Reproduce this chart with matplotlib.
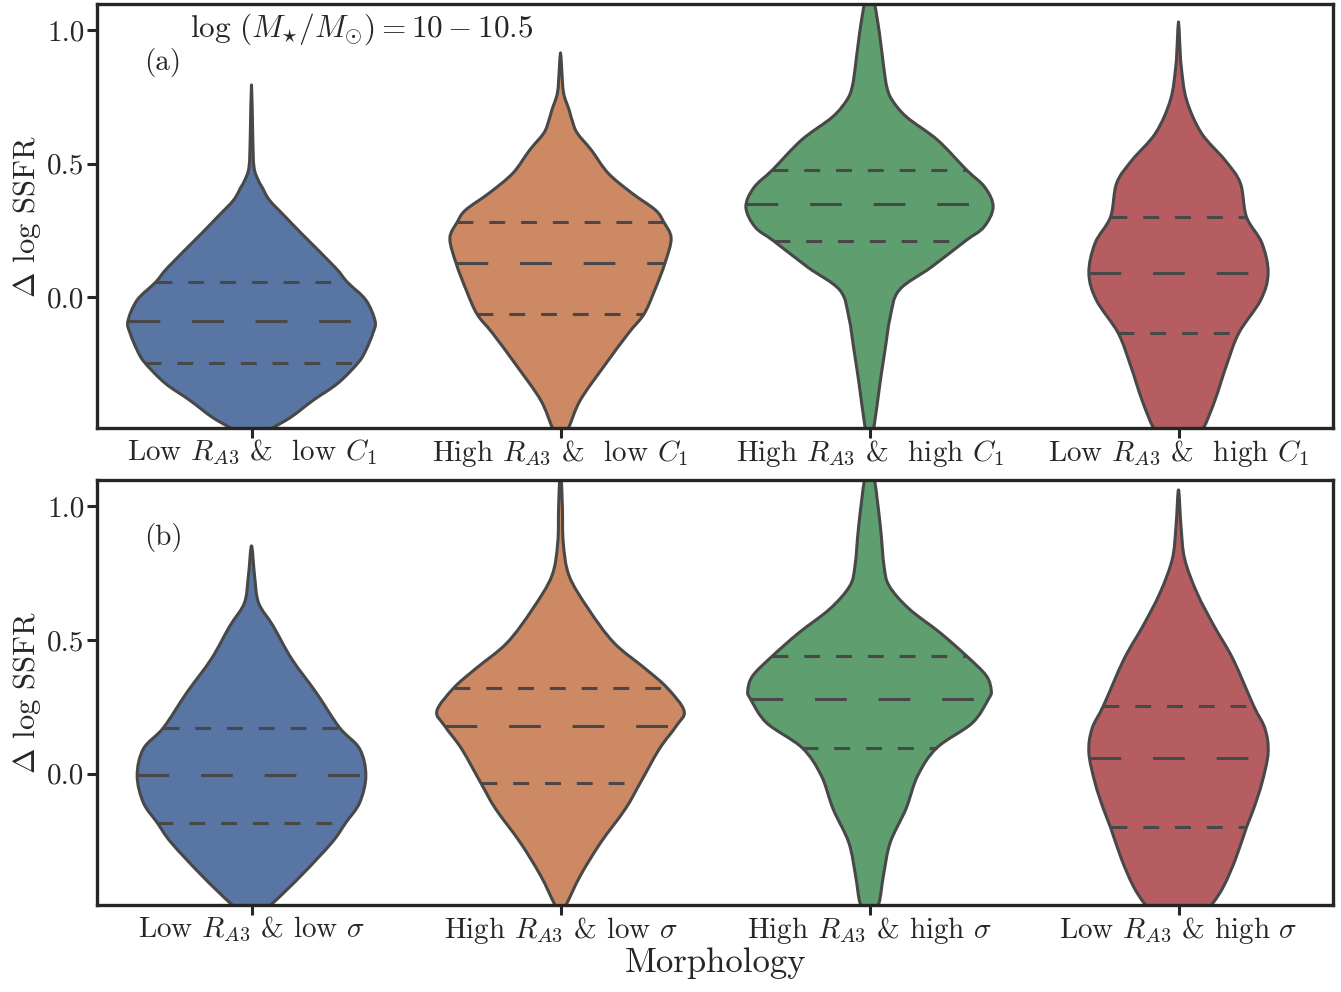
import numpy as np
import matplotlib
matplotlib.use("Agg")
import matplotlib.pyplot as plt
from matplotlib.path import Path
from matplotlib.patches import PathPatch

plt.rcParams['font.family'] = 'serif'
plt.rcParams['font.serif'] = ['cmr10']
plt.rcParams['mathtext.fontset'] = 'cm'
plt.rcParams['axes.formatter.use_mathtext'] = True

# category labels
labels_a = [r'Low $R_{A3}$ &  low $C_1$', r'High $R_{A3}$ &  low $C_1$',
            r'High $R_{A3}$ &  high $C_1$', r'Low $R_{A3}$ &  high $C_1$']
labels_b = [r'Low $R_{A3}$ & low $\sigma$', r'High $R_{A3}$ & low $\sigma$',
            r'High $R_{A3}$ & high $\sigma$', r'Low $R_{A3}$ & high $\sigma$']

colors = ['#5875a4', '#cc8963', '#5f9e6e', '#b55d60']
edge = '#484848'

# violin outlines: (delta log SSFR, half width)
a_blue = [(-0.53, 0.0), (-0.49, 0.067), (-0.449, 0.128), (-0.386, 0.20), (-0.322, 0.28),
          (-0.246, 0.345), (-0.199, 0.37), (-0.135, 0.393), (-0.09, 0.40), (-0.011, 0.37),
          (0.056, 0.31), (0.112, 0.27), (0.24, 0.16), (0.30, 0.11), (0.363, 0.058),
          (0.41, 0.035), (0.437, 0.022), (0.487, 0.008), (0.60, 0.004), (0.794, 0.0)]
a_orange = [(-0.55, 0.0), (-0.49, 0.026), (-0.386, 0.064), (-0.26, 0.14), (-0.135, 0.22),
            (-0.064, 0.27), (0.026, 0.305), (0.127, 0.338), (0.22, 0.358), (0.281, 0.334),
            (0.326, 0.307), (0.39, 0.23), (0.464, 0.154), (0.55, 0.10), (0.614, 0.054),
            (0.66, 0.038), (0.70, 0.028), (0.764, 0.01), (0.85, 0.004), (0.914, 0.0)]
a_green = [(-0.56, 0.0), (-0.49, 0.014), (-0.322, 0.034), (-0.2, 0.05), (-0.075, 0.067),
           (0.026, 0.096), (0.112, 0.20), (0.21, 0.31), (0.262, 0.37), (0.337, 0.40),
           (0.41, 0.374), (0.476, 0.314), (0.588, 0.22), (0.674, 0.12), (0.738, 0.073),
           (0.787, 0.056), (0.861, 0.046), (0.989, 0.032), (1.10, 0.016), (1.16, 0.0)]
a_red = [(-0.62, 0.0), (-0.56, 0.04), (-0.49, 0.081), (-0.386, 0.118), (-0.26, 0.154),
         (-0.135, 0.195), (-0.011, 0.266), (0.09, 0.29), (0.202, 0.27), (0.30, 0.22),
         (0.427, 0.20), (0.513, 0.15), (0.614, 0.074), (0.738, 0.026), (0.861, 0.009),
         (0.95, 0.004), (1.03, 0.0)]

b_blue = [(-0.55, 0.0), (-0.485, 0.067), (-0.381, 0.16), (-0.257, 0.26), (-0.183, 0.305),
          (-0.108, 0.35), (-0.007, 0.37), (0.093, 0.35), (0.172, 0.285), (0.302, 0.21),
          (0.429, 0.13), (0.552, 0.07), (0.638, 0.023), (0.739, 0.01), (0.851, 0.0)]
b_orange = [(-0.52, 0.0), (-0.485, 0.02), (-0.381, 0.064), (-0.257, 0.13), (-0.131, 0.21),
            (-0.034, 0.258), (0.093, 0.32), (0.179, 0.375), (0.235, 0.40), (0.321, 0.345),
            (0.392, 0.275), (0.489, 0.173), (0.616, 0.09), (0.739, 0.028), (0.862, 0.009),
            (1.0, 0.006), (1.15, 0.0)]
b_green = [(-0.55, 0.0), (-0.485, 0.03), (-0.381, 0.045), (-0.257, 0.067), (-0.131, 0.118),
           (-0.007, 0.156), (0.097, 0.218), (0.19, 0.333), (0.279, 0.385), (0.31, 0.394),
           (0.366, 0.378), (0.44, 0.314), (0.527, 0.228), (0.616, 0.128), (0.701, 0.064),
           (0.776, 0.047), (0.925, 0.035), (1.10, 0.016), (1.16, 0.0)]
b_red = [(-0.62, 0.0), (-0.55, 0.06), (-0.485, 0.11), (-0.418, 0.147), (-0.317, 0.185),
         (-0.2, 0.22), (-0.131, 0.243), (-0.034, 0.27), (0.078, 0.29), (0.168, 0.28),
         (0.254, 0.243), (0.429, 0.176), (0.552, 0.115), (0.675, 0.06), (0.802, 0.02),
         (0.925, 0.008), (1.06, 0.0)]

# quartiles (q1, median, q3) and the violin half width at each
a_quart = [[-0.245, -0.09, 0.056], [-0.064, 0.127, 0.281], [0.21, 0.348, 0.476], [-0.135, 0.09, 0.30]]
a_qwid = [[0.345, 0.40, 0.31], [0.27, 0.338, 0.334], [0.31, 0.40, 0.314], [0.195, 0.29, 0.22]]
b_quart = [[-0.183, -0.005, 0.172], [-0.034, 0.179, 0.321], [0.097, 0.279, 0.44], [-0.2, 0.06, 0.254]]
b_qwid = [[0.305, 0.37, 0.285], [0.258, 0.375, 0.345], [0.218, 0.385, 0.314], [0.22, 0.29, 0.243]]

W, H = 1341, 992
fig = plt.figure(figsize=(W / 100, H / 100), dpi=100)
ax1 = fig.add_axes([97 / W, 1 - 428 / H, 1236 / W, 424 / H])
ax2 = fig.add_axes([97 / W, 1 - 905 / H, 1236 / W, 425 / H])

lw = 2.2


def smooth_outline(pts):
    # closed outline through the read points, drawn as cubic bezier segments
    n = len(pts)
    verts = [pts[0]]
    codes = [Path.MOVETO]
    for k in range(n):
        p0, p1 = pts[k - 1], pts[k]
        p2, p3 = pts[(k + 1) % n], pts[(k + 2) % n]
        c1 = p1 + (p2 - p0) / 6.0
        c2 = p2 - (p3 - p1) / 6.0
        verts += [c1, c2, p2]
        codes += [Path.CURVE4] * 3
    return Path(np.array(verts), codes)


def draw_panel(ax, profiles, quart, qwid, labels):
    for i, prof in enumerate(profiles):
        ys = np.array([p[0] for p in prof])
        ws = np.array([p[1] for p in prof])
        right = np.column_stack([i + ws, ys])
        left = np.column_stack([i - ws, ys])[::-1][1:-1]
        pts = np.vstack([right, left])
        patch = PathPatch(smooth_outline(pts), facecolor=colors[i], edgecolor=edge,
                          linewidth=lw, joinstyle='round', zorder=2)
        ax.add_patch(patch)
        for k, (q, w) in enumerate(zip(quart[i], qwid[i])):
            if k == 1:
                ls = (0, (10.4, 10.4))
            else:
                ls = (0, (5.2, 5.2))
            ax.plot([i - w, i + w], [q, q], color=edge, linewidth=lw,
                    linestyle=ls, dash_capstyle='butt', zorder=3)
    ax.set_xlim(-0.5, 3.5)
    ax.set_ylim(-0.49, 1.097)
    ax.set_xticks(range(4))
    ax.set_xticklabels(labels)
    ax.set_yticks([0.0, 0.5, 1.0])
    ax.set_yticklabels(['0.0', '0.5', '1.0'])
    ax.tick_params(axis='both', direction='out', length=7, width=2.2, colors='#262626',
                   labelsize=21, pad=2)
    ax.tick_params(axis='x', pad=0)
    for s in ax.spines.values():
        s.set_linewidth(2.4)
        s.set_color('#262626')
    ax.set_ylabel(r'$\Delta$ log SSFR', fontsize=22, color='#262626', labelpad=3)


draw_panel(ax1, [a_blue, a_orange, a_green, a_red], a_quart, a_qwid, labels_a)
draw_panel(ax2, [b_blue, b_orange, b_green, b_red], b_quart, b_qwid, labels_b)

ax1.text(0.038, 0.863, '(a)', transform=ax1.transAxes, fontsize=21, color='#262626',
         va='center', ha='left')
ax1.text(0.075, 0.94, r'$\log\,(M_{\star}/M_{\odot})=10-10.5$', transform=ax1.transAxes,
         fontsize=22.5, color='#262626', va='center', ha='left')
ax2.text(0.038, 0.864, '(b)', transform=ax2.transAxes, fontsize=21, color='#262626',
         va='center', ha='left')
ax2.set_xlabel('Morphology', fontsize=25, color='#262626', labelpad=1)

fig.savefig('out.png', dpi=100)
